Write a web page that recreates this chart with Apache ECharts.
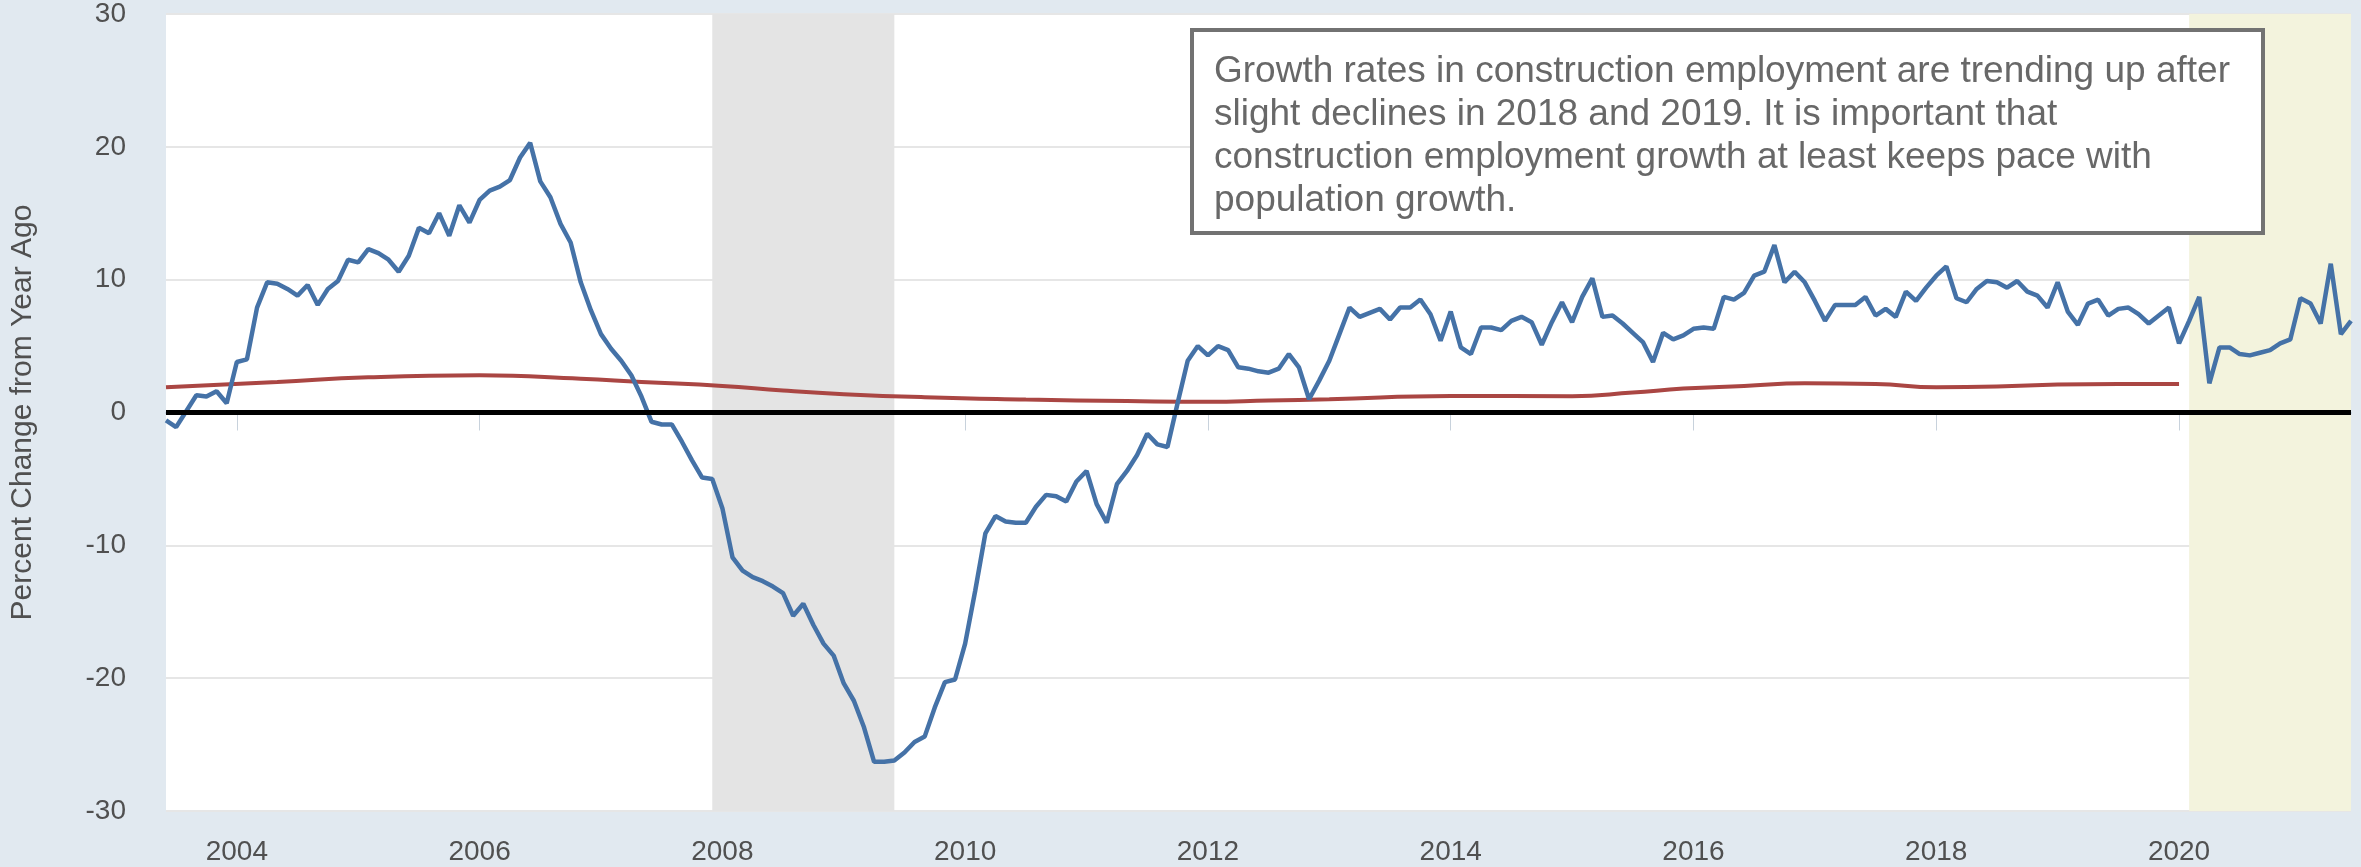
<!DOCTYPE html>
<html>
<head>
<meta charset="utf-8">
<title>Construction employment growth</title>
<script src="https://cdn.jsdelivr.net/npm/echarts@6/dist/echarts.min.js"></script>
<style>
html, body { margin: 0; padding: 0; background: #e1e9f0; }
#chart { width: 2361px; height: 867px; }
</style>
</head>
<body>
<div id="chart"></div>
<script>
// monthly series starts June 2003
var startYear = 2003, startMonth = 6, monthCount = 217;

// construction employment, percent change from year ago
var employment = [
    -0.6, -1.1, 0.1, 1.3, 1.2, 1.6, 0.7,                          // 2003 jun-dec
    3.8, 4.0, 7.9, 9.8, 9.7, 9.3, 8.8, 9.6, 8.1, 9.3, 9.9, 11.5,   // 2004
    11.3, 12.3, 12.0, 11.5, 10.6, 11.8, 13.9, 13.5, 15.0, 13.3, 15.6, 14.3,
    16.0, 16.7, 17.0, 17.5, 19.2, 20.3, 17.4, 16.2, 14.2, 12.8, 9.8, 7.7,
    5.9, 4.8, 3.9, 2.8, 1.2, -0.7, -0.9, -0.9, -2.2, -3.6, -4.9, -5.0,
    -7.2, -10.9, -11.9, -12.4, -12.7, -13.1, -13.6, -15.3, -14.4, -16.0, -17.4, -18.3,
    -20.4, -21.7, -23.7, -26.3, -26.3, -26.2, -25.6, -24.8, -24.4, -22.2, -20.3, -20.1,
    -17.4, -13.4, -9.1, -7.8, -8.2, -8.3, -8.3, -7.1, -6.2, -6.3, -6.7, -5.2,
    -4.4, -6.9, -8.3, -5.4, -4.4, -3.2, -1.6, -2.4, -2.6, 0.7, 3.9, 5.0,
    4.3, 5.0, 4.7, 3.4, 3.3, 3.1, 3.0, 3.3, 4.4, 3.4, 1.0, 2.4,
    3.9, 5.9, 7.9, 7.2, 7.5, 7.8, 7.0, 7.9, 7.9, 8.5, 7.4, 5.4,
    7.6, 4.9, 4.4, 6.4, 6.4, 6.2, 6.9, 7.2, 6.8, 5.1, 6.8, 8.3,
    6.8, 8.7, 10.1, 7.2, 7.3, 6.7, 6.0, 5.3, 3.8, 6.0, 5.5, 5.8,
    6.3, 6.4, 6.3, 8.7, 8.5, 9.0, 10.3, 10.6, 12.6, 9.8, 10.6, 9.8,
    8.4, 6.9, 8.1, 8.1, 8.1, 8.7, 7.3, 7.8, 7.2, 9.1, 8.4, 9.4,
    10.3, 11.0, 8.6, 8.3, 9.3, 9.9, 9.8, 9.4, 9.9, 9.1, 8.8, 7.9,
    9.8, 7.6, 6.6, 8.2, 8.5, 7.3, 7.8, 7.9, 7.4, 6.7, 7.3, 7.9,
    5.2, 6.9, 8.7, 2.2, 4.9, 4.9, 4.4, 4.3, 4.5, 4.7, 5.2, 5.5,
    8.6, 8.2, 6.7, 11.2, 5.9, 6.9                                 // 2021 jan-jun
];

// population growth line (red), read at a few points
var popMonths = ['2003-06','2004-05','2005-02','2006-01','2006-11','2007-05','2008-01','2008-07',
    '2009-01','2009-09','2010-07','2011-05','2012-01','2012-07','2013-01','2014-01','2015-01',
    '2015-07','2015-12','2016-06','2016-12','2017-07','2018-01','2018-07','2019-01','2019-07','2020-01'];
var popValues = [1.9, 2.3, 2.65, 2.8, 2.55, 2.3, 2.0, 1.65,
    1.38, 1.15, 0.98, 0.86, 0.8, 0.9, 1.0, 1.25, 1.22,
    1.5, 1.8, 2.0, 2.2, 2.15, 1.9, 1.95, 2.1, 2.15, 2.15];

var yMin = -30, yMax = 30, yStep = 10;
var recession = ['2007-12', '2009-06'];
var covidBand = ['2020-02', '2021-06'];
var noteLines = [
    'Growth rates in construction employment are trending up after',
    'slight declines in 2018 and 2019. It is important that',
    'construction employment growth at least keeps pace with',
    'population growth.'
];

var months = [];
for (var i = 0; i < monthCount; i++) {
    var k = startMonth - 1 + i;
    var mo = k % 12 + 1;
    months.push((startYear + Math.floor(k / 12)) + '-' + (mo < 10 ? '0' + mo : mo));
}
var popData = months.map(function (m) {
    var idx = popMonths.indexOf(m);
    return idx >= 0 ? popValues[idx] : null;
});

function evenJanuary(index, value) {
    return value.slice(5) === '01' && parseInt(value.slice(0, 4), 10) % 2 === 0;
}

var font = '"Liberation Sans", Arial, sans-serif';
var myChart = echarts.init(document.getElementById('chart'));
var option = {
    animation: false,
    backgroundColor: '#e1e9f0',
    grid: {
        left: 163, right: 10, top: 14, bottom: 56,
        show: true, backgroundColor: '#fff', borderWidth: 0
    },
    xAxis: {
        type: 'category',
        boundaryGap: false,
        data: months,
        axisLine: { lineStyle: { color: '#c0d0e0', width: 2 } },
        axisTick: { show: true, interval: evenJanuary, length: 18, lineStyle: { color: '#c8d2dc', width: 1 } },
        axisLabel: {
            interval: evenJanuary,
            formatter: function (v) { return v.slice(0, 4); },
            color: '#505050', fontSize: 28, fontFamily: font, margin: 27
        },
        splitLine: { show: false }
    },
    yAxis: {
        type: 'value',
        min: yMin, max: yMax, interval: yStep,
        name: 'Percent Change from Year Ago',
        nameLocation: 'middle',
        nameGap: 128,
        nameTextStyle: { color: '#505050', fontSize: 30, fontFamily: font },
        axisLine: { show: false },
        axisTick: { show: false },
        axisLabel: { color: '#505050', fontSize: 28, fontFamily: font, margin: 40 },
        splitLine: { lineStyle: { color: '#e6e6e6', width: 2 } }
    },
    series: [
        {
            name: 'bands',
            type: 'line',
            data: [],
            z: 1,
            silent: true,
            markArea: {
                silent: true,
                data: [
                    [{ xAxis: recession[0], itemStyle: { color: '#e4e4e4' } }, { xAxis: recession[1] }],
                    [{ xAxis: covidBand[0], itemStyle: { color: '#f3f3dd' } }, { xAxis: covidBand[1] }]
                ]
            }
        },
        {
            name: 'zero',
            type: 'line',
            data: [],
            z: 2,
            silent: true,
            markLine: {
                silent: true,
                symbol: ['none', 'none'],
                label: { show: false },
                lineStyle: { color: '#000', width: 5, type: 'solid' },
                data: [{ yAxis: 0 }]
            }
        },
        {
            name: 'Population',
            type: 'line',
            data: popData,
            connectNulls: true,
            smooth: 0.5,
            showSymbol: false,
            z: 3,
            lineStyle: { color: '#aa4643', width: 4 }
        },
        {
            name: 'Construction Employment',
            type: 'line',
            data: employment,
            showSymbol: false,
            z: 4,
            lineStyle: { color: '#4572a7', width: 4.5 }
        }
    ],
    graphic: [{
        type: 'group',
        left: 1190,
        top: 28,
        z: 100,
        children: [
            {
                type: 'rect',
                z: 100,
                shape: { x: 0, y: 0, width: 1071, height: 203 },
                style: { fill: '#fff', stroke: '#727272', lineWidth: 4 }
            },
            {
                type: 'text',
                z: 101,
                x: 22, y: 20,
                style: {
                    text: noteLines.join('\n'),
                    font: '37px ' + font,
                    fill: '#686868',
                    lineHeight: 43
                }
            }
        ]
    }]
};
myChart.setOption(option);
</script>
</body>
</html>
